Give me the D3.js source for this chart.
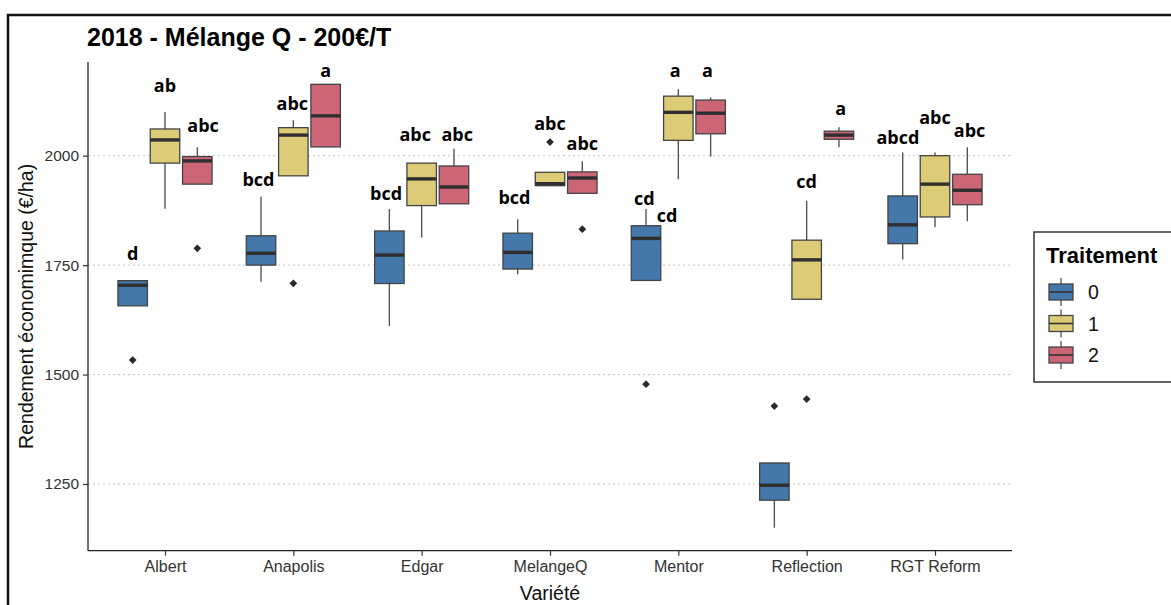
<!DOCTYPE html>
<html>
<head>
<meta charset="utf-8">
<script src="https://cdn.jsdelivr.net/npm/d3@7"></script>
<style>
  html, body { margin: 0; padding: 0; background: #fff; }
  svg { display: block; }
</style>
</head>
<body>
<svg id="chart" width="1171" height="605"></svg>
<script>
// ---------------- data ----------------
const titleText = "2018 - Mélange Q - 200€/T";
const varieties = ["Albert", "Anapolis", "Edgar", "MelangeQ", "Mentor", "Reflection", "RGT Reform"];
const treatments = ["0", "1", "2"];
const colors = ["#4477AA", "#DDCC77", "#CC6677"];
const yTicks = [1250, 1500, 1750, 2000];

// box statistics, indexed [treatment][variety]
const whiskerLow = [
  [1657, 1712, 1611, 1729, 1715, 1150, 1763],
  [1879, 1954, 1813, 1931.5, 1946, 1672, 1836.5],
  [1935, 2020, 1890, 1914, 1998, 2019, 1850]
];
const q1 = [
  [1657, 1750, 1708, 1741, 1715, 1213, 1799],
  [1983, 1954, 1886, 1931.5, 2035, 1672, 1860],
  [1935, 2020, 1890, 1914, 2050, 2037.5, 1888]
];
const median = [
  [1704, 1777, 1773, 1779, 1811, 1247, 1842],
  [2036, 2047, 1947, 1936, 2099, 1762, 1935],
  [1988, 2091, 1928.5, 1949, 2097, 2047, 1921]
];
const q3 = [
  [1714.5, 1817, 1828, 1823, 1840, 1298, 1908],
  [2061, 2064, 1983, 1962, 2136, 1807, 2000],
  [1998, 2163, 1976.5, 1963, 2127, 2056, 1957.5]
];
const whiskerHigh = [
  [1714.5, 1906, 1878, 1855, 1878, 1298, 2007],
  [2100, 2081, 1983, 1962, 2152, 1897, 2007],
  [2019, 2163, 2016, 1987, 2133, 2065, 2019]
];
// outliers: [variety, treatment, value]
const outliers = [
  ["Albert", 0, 1533], ["Albert", 2, 1788.5], ["Anapolis", 1, 1708.5],
  ["MelangeQ", 1, 2031], ["MelangeQ", 2, 1832], ["Mentor", 0, 1478],
  ["Reflection", 0, 1428], ["Reflection", 1, 1444]
];
// significance letters: [variety, treatment slot, text, value]
const letters = [
  ["Albert", 0, "d", 1778], ["Albert", 1, "ab", 2161.5], ["Albert", 2.18, "abc", 2070],
  ["Anapolis", -0.08, "bcd", 1946], ["Anapolis", 0.97, "abc", 2121], ["Anapolis", 2, "a", 2196],
  ["Edgar", -0.1, "bcd", 1915.5], ["Edgar", 0.8, "abc", 2049.6], ["Edgar", 2.1, "abc", 2049.6],
  ["MelangeQ", -0.1, "bcd", 1906], ["MelangeQ", 1, "abc", 2074], ["MelangeQ", 2, "abc", 2028],
  ["Mentor", -0.05, "cd", 1903], ["Mentor", 0.65, "cd", 1864.5], ["Mentor", 0.9, "a", 2196], ["Mentor", 1.9, "a", 2196],
  ["Reflection", 1, "cd", 1943], ["Reflection", 2.05, "a", 2108],
  ["RGT Reform", -0.15, "abcd", 2042], ["RGT Reform", 1, "abc", 2089], ["RGT Reform", 2.07, "abc", 2059]
];

// ---------------- layout ----------------
const svg = d3.select("#chart");
const P = { left: 88, right: 1012, top: 62, bottom: 550.7 };

const x = d3.scalePoint().domain(varieties).range([P.left, P.right]).padding(0.6);
const dodge = d3.scaleLinear().domain([0, 2]).range([-32.3, 32.3]);
const y = d3.scaleLinear().domain([1097.6, 2214]).range([P.bottom, P.top]);
const boxW = 29.5;

// outer frame
svg.append("rect").attr("x", 8).attr("y", 15).attr("width", 1220).attr("height", 600)
  .attr("fill", "none").attr("stroke", "#111").attr("stroke-width", 2.5);

// title
svg.append("text").attr("x", 87).attr("y", 46)
  .attr("font-family", "Liberation Sans, Arial, sans-serif").attr("font-weight", "bold")
  .attr("font-size", 25).attr("fill", "#000").text(titleText);

// gridlines
svg.append("g").selectAll("line").data(yTicks).join("line")
  .attr("x1", P.left).attr("x2", P.right)
  .attr("y1", d => y(d)).attr("y2", d => y(d))
  .attr("stroke", "#c4c4c4").attr("stroke-width", 1).attr("stroke-dasharray", "2,3");

// axes
const yAxis = svg.append("g").attr("transform", `translate(${P.left},0)`)
  .call(d3.axisLeft(y).tickValues(yTicks).tickFormat(d3.format("d")).tickSize(5).tickPadding(4));
yAxis.select(".domain").attr("d", `M0,${P.top}V${P.bottom}`).attr("stroke", "#222").attr("stroke-width", 1.3);
yAxis.selectAll(".tick line").attr("stroke", "#333").attr("stroke-width", 1.2);
yAxis.selectAll(".tick text").attr("font-family", "Liberation Sans, Arial, sans-serif")
  .attr("font-size", 15.5).attr("fill", "#333");

const xAxis = svg.append("g").attr("transform", `translate(0,${P.bottom})`)
  .call(d3.axisBottom(x).tickSize(5).tickPadding(5));
xAxis.select(".domain").attr("d", `M${P.left},0H${P.right}`).attr("stroke", "#222").attr("stroke-width", 1.3);
xAxis.selectAll(".tick line").attr("stroke", "#333").attr("stroke-width", 1.2);
xAxis.selectAll(".tick text").attr("font-family", "Liberation Sans, Arial, sans-serif")
  .attr("font-size", 16).attr("fill", "#333");

// axis titles
svg.append("text").attr("x", 550).attr("y", 600)
  .attr("text-anchor", "middle").attr("font-family", "Liberation Sans, Arial, sans-serif")
  .attr("font-size", 19.5).attr("fill", "#111").text("Variété");
svg.append("text").attr("transform", `translate(33,${(P.top + P.bottom) / 2}) rotate(-90)`)
  .attr("text-anchor", "middle").attr("font-family", "Liberation Sans, Arial, sans-serif")
  .attr("font-size", 19.5).attr("fill", "#111").text("Rendement économimque (€/ha)");

// boxes
const boxes = [];
treatments.forEach((t, ti) => varieties.forEach((v, vi) => {
  boxes.push({ v, ti, lw: whiskerLow[ti][vi], q1: q1[ti][vi], med: median[ti][vi], q3: q3[ti][vi], uw: whiskerHigh[ti][vi] });
}));
const gBox = svg.append("g").selectAll("g").data(boxes).join("g")
  .attr("transform", d => `translate(${x(d.v) + dodge(d.ti)},0)`);
gBox.append("line").attr("x1", 0).attr("x2", 0).attr("y1", d => y(d.uw)).attr("y2", d => y(d.q3))
  .attr("stroke", "#555").attr("stroke-width", 1.4);
gBox.append("line").attr("x1", 0).attr("x2", 0).attr("y1", d => y(d.q1)).attr("y2", d => y(d.lw))
  .attr("stroke", "#555").attr("stroke-width", 1.4);
gBox.append("rect").attr("x", -boxW / 2).attr("width", boxW)
  .attr("y", d => y(d.q3)).attr("height", d => y(d.q1) - y(d.q3))
  .attr("fill", d => colors[d.ti]).attr("stroke", "#444").attr("stroke-width", 1.3);
gBox.append("line").attr("x1", -boxW / 2).attr("x2", boxW / 2)
  .attr("y1", d => y(d.med)).attr("y2", d => y(d.med))
  .attr("stroke", "#2f2f2f").attr("stroke-width", 3.4);

// outliers (filled diamonds)
svg.append("g").selectAll("path").data(outliers).join("path")
  .attr("d", d3.symbol().type(d3.symbolSquare).size(30))
  .attr("transform", d => `translate(${x(d[0]) + dodge(d[1])},${y(d[2])}) rotate(45)`)
  .attr("fill", "#2b2b2b");

// letters
svg.append("g").selectAll("text").data(letters).join("text")
  .attr("x", d => x(d[0]) + dodge(d[1])).attr("y", d => y(d[3]))
  .attr("text-anchor", "middle").attr("dominant-baseline", "central")
  .attr("font-family", "Open Sans, sans-serif").attr("font-weight", "bold")
  .attr("font-size", 18).attr("fill", "#000").text(d => d[2]);

// legend
const L = svg.append("g");
L.append("rect").attr("x", 1034).attr("y", 232).attr("width", 200).attr("height", 150)
  .attr("fill", "#fff").attr("stroke", "#333").attr("stroke-width", 1.5);
L.append("text").attr("x", 1046).attr("y", 263).attr("font-family", "Liberation Sans, Arial, sans-serif")
  .attr("font-weight", "bold").attr("font-size", 22).attr("fill", "#000").text("Traitement");
const keyY = d3.scalePoint().domain(treatments).range([292, 355]);
const key = L.selectAll("g.key").data(treatments).join("g").attr("class", "key")
  .attr("transform", d => `translate(1061,${keyY(d)})`);
key.append("line").attr("y1", -14).attr("y2", 14).attr("stroke", "#555").attr("stroke-width", 1.3);
key.append("rect").attr("x", -12).attr("y", -8).attr("width", 24).attr("height", 16)
  .attr("fill", (d, i) => colors[i]).attr("stroke", "#444").attr("stroke-width", 1.3);
key.append("line").attr("x1", -12).attr("x2", 12).attr("stroke", "#333").attr("stroke-width", 1.6);
key.append("text").attr("x", 27).attr("y", 0).attr("dominant-baseline", "central")
  .attr("font-family", "Liberation Sans, Arial, sans-serif").attr("font-size", 19.5)
  .attr("fill", "#111").text(d => d);
</script>
</body>
</html>
